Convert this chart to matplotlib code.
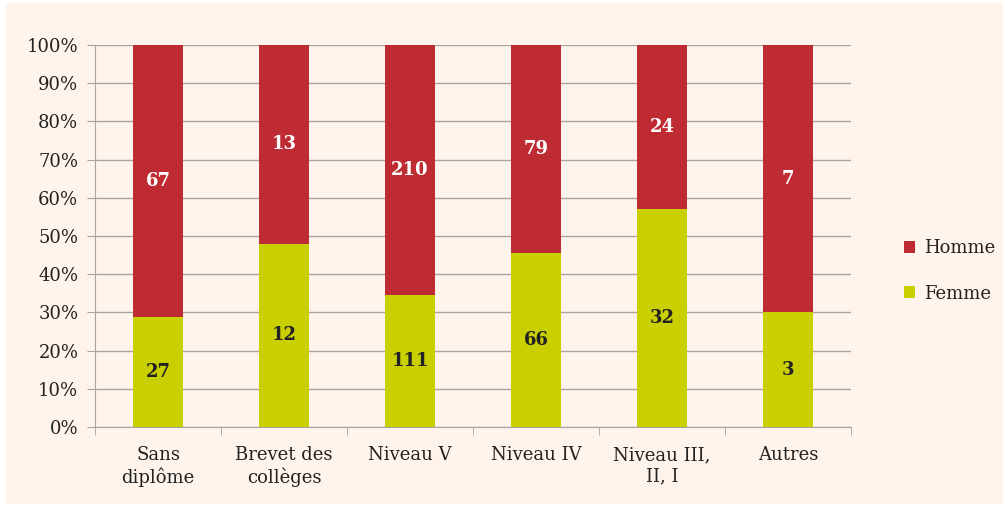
import matplotlib.pyplot as plt
import numpy as np
from matplotlib.patches import Rectangle

# données
categories = ['Sans\ndiplôme', 'Brevet des\ncollèges', 'Niveau V', 'Niveau IV', 'Niveau III,\nII, I', 'Autres']
femme = [27, 12, 111, 66, 32, 3]
homme = [67, 13, 210, 79, 24, 7]

c_homme = '#BE2B33'
c_femme = '#C9CF00'
bg = '#FEF4EC'

plt.rcParams['font.family'] = ['DejaVu Serif']

fig = plt.figure(figsize=(10.08, 5.08), dpi=100)
fig.patch.set_facecolor('white')
fig.patches.append(Rectangle((6 / 1008, 4 / 508), 997 / 1008, 501 / 508,
                             transform=fig.transFigure, facecolor=bg, edgecolor='none', zorder=-10))
ax = fig.add_axes([95 / 1008, 1 - 427 / 508, 756 / 1008, 382 / 508])
ax.set_facecolor(bg)

x = np.arange(len(categories))
tot = np.array(femme) + np.array(homme)
pf = np.array(femme) / tot * 100
ph = np.array(homme) / tot * 100

ax.bar(x, pf, width=0.4, color=c_femme, label='Femme', zorder=3)
ax.bar(x, ph, width=0.4, bottom=pf, color=c_homme, label='Homme', zorder=3)

for i in range(len(x)):
    ax.text(x[i], pf[i] / 2, str(femme[i]), ha='center', va='center',
            fontsize=13, fontweight='bold', color='#222222', zorder=4)
    ax.text(x[i], pf[i] + ph[i] / 2, str(homme[i]), ha='center', va='center',
            fontsize=13, fontweight='bold', color='white', zorder=4)

ax.set_xlim(-0.5, len(x) - 0.5)
ax.set_ylim(0, 100)
ax.set_yticks(np.arange(0, 101, 10))
ax.set_yticklabels([f'{v}%' for v in range(0, 101, 10)], fontsize=13, color='#222222')
ax.yaxis.grid(True, color='#A8A4A0', linewidth=1, zorder=0)
ax.set_axisbelow(True)
ax.set_xticks(x)
ax.set_xticklabels(categories, fontsize=13, color='#222222')
ax.set_xticks(np.arange(-0.5, len(x) + 0.5, 1), minor=True)
ax.tick_params(axis='x', which='major', length=0, pad=14)
ax.tick_params(axis='x', which='minor', length=6, color='#A8A4A0', direction='out')
ax.tick_params(axis='y', length=6, color='#A8A4A0', pad=6)
for s in ['top', 'right']:
    ax.spines[s].set_visible(False)
for s in ['left', 'bottom']:
    ax.spines[s].set_color('#A8A4A0')

h, l = ax.get_legend_handles_labels()
leg = fig.legend(h[::-1], l[::-1], loc='center left', bbox_to_anchor=(888 / 1008, 1 - 271 / 508),
                 frameon=False, fontsize=13, handlelength=0.6, handleheight=0.6,
                 labelspacing=1.5, handletextpad=0.5)
for t in leg.get_texts():
    t.set_color('#222222')

fig.savefig('out.png', dpi=100)
